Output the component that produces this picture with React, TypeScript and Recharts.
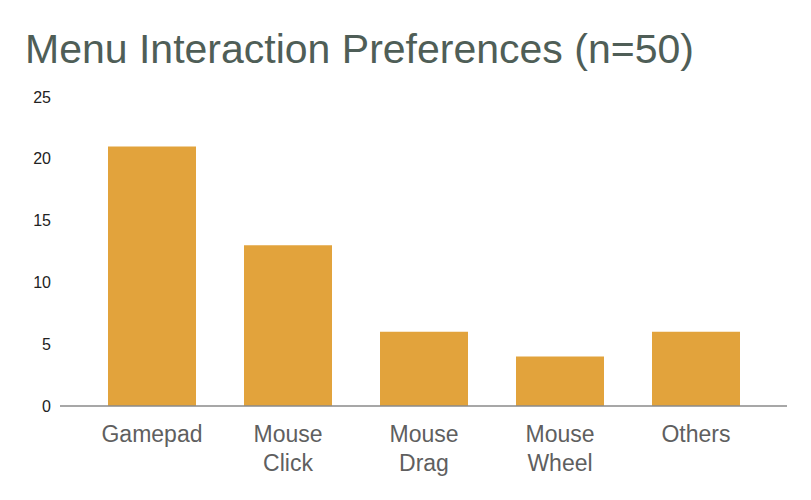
import React from 'react';
import { BarChart, Bar, XAxis, YAxis } from 'recharts';

const categories = ['Gamepad', 'Mouse Click', 'Mouse Drag', 'Mouse Wheel', 'Others'];
const counts = [21, 13, 6, 4, 6];
const yTicks = [0, 5, 10, 15, 20, 25];

const data = categories.map((name, i) => ({ name, count: counts[i] }));

const FONT = "Arial, 'Liberation Sans', sans-serif";

const CategoryTick = (props: any) => {
  const { x, y, payload } = props;
  const lines = String(payload.value).split(' ');
  return (
    <text x={x} y={y} textAnchor="middle" fill="#5f5f5f" fontSize={23} fontFamily={FONT}>
      {lines.map((line, i) => (
        <tspan key={i} x={x} dy={i === 0 ? 36 : 29}>
          {line}
        </tspan>
      ))}
    </text>
  );
};

export default function App() {
  return (
    <div style={{ position: 'relative', width: 795, height: 484, background: '#fff' }}>
      <div
        style={{
          position: 'absolute',
          left: 17,
          top: 21,
          fontFamily: FONT,
          fontSize: 41,
          color: '#4f5e57',
          whiteSpace: 'nowrap',
          lineHeight: 1,
        }}
      >
        Menu Interaction Preferences (n=50)
      </div>
      <BarChart
        width={795}
        height={484}
        data={data}
        margin={{ top: 89, right: 16, bottom: 0, left: 0 }}
      >
        <XAxis
          dataKey="name"
          height={86}
          tickLine={false}
          tickSize={0}
          tickMargin={0}
          axisLine={{ stroke: '#8a8a8a', strokeWidth: 1.5 }}
          padding={{ left: 24, right: 23 }}
          interval={0}
          tick={<CategoryTick />}
        />
        <YAxis
          width={52}
          domain={[0, 25]}
          ticks={yTicks}
          axisLine={false}
          tickLine={false}
          tickSize={0}
          tickMargin={9}
          tick={{ fill: '#222', fontSize: 16, fontFamily: FONT }}
        />
        <Bar dataKey="count" fill="#e2a33c" barSize={88} isAnimationActive={false} />
      </BarChart>
    </div>
  );
}
